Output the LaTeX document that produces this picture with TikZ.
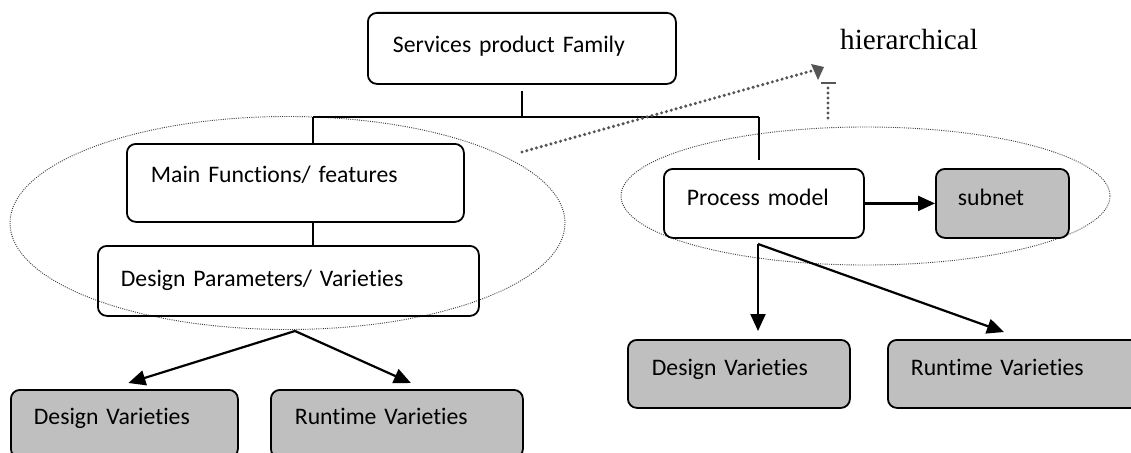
\documentclass[tikz,border=0pt]{standalone}
\usepackage{fontspec}
\newfontfamily\calfont[Ligatures=NoCommon]{Carlito}
\newfontfamily\timesfont{Liberation Serif}
\usetikzlibrary{arrows.meta}
\definecolor{boxgray}{HTML}{BFBFBF}
\definecolor{dotgray}{HTML}{555555}
\begin{document}
\begin{tikzpicture}[x=1pt,y=-1pt,
  pbox/.style={draw, line width=1.8pt, rounded corners=9pt, anchor=north west,
    inner ysep=0pt, align=left, font=\calfont\fontsize{23.7}{28}\selectfont},
  gbox/.style={pbox, fill=boxgray},
  conn/.style={line width=2.2pt},
  arr/.style={line width=2.2pt, -{Triangle[length=17pt,width=15pt]}},
  ell/.style={line width=0.9pt, black!75, dash pattern=on 1pt off 1.2pt},
  gdot/.style={line width=3.4pt, dotgray, line cap=round, dash pattern=on 0pt off 5pt}
]
\useasboundingbox (0,0) rectangle (1131,452);
\clip (0,0) rectangle (1131,452);
\fill[white] (0,0) rectangle (1131,452);

% ellipses
\draw[ell] (287.5,223) ellipse [x radius=277.5pt, y radius=106.5pt];
\draw[ell] (865.5,196) ellipse [x radius=244.5pt, y radius=69pt];

% boxes
\node[pbox, inner xsep=25pt, text width=258pt, text height=40pt, text depth=31pt] (sp) at (367,12) {Services product Family};
\node[pbox, inner xsep=24pt, text width=289pt, text height=39pt, text depth=39pt] (mf) at (126,143) {Main Functions/ features};
\node[pbox, inner xsep=23pt, text width=335pt, text height=41pt, text depth=29pt] (dp) at (97,245) {Design Parameters/ Varieties};
\node[gbox, inner xsep=23pt, text width=181pt, text height=35pt, text depth=33pt] (dv1) at (10,389) {Design Varieties};
\node[gbox, inner xsep=24pt, text width=204pt, text height=35pt, text depth=33pt] (rv1) at (270,389) {Runtime Varieties};
\node[pbox, inner xsep=23pt, text width=154pt, text height=37pt, text depth=32pt] (pm) at (663,168) {Process model};
\node[gbox, inner xsep=22pt, text width=89pt, text height=37pt, text depth=32pt] (sn) at (935,168) {subnet};
\node[gbox, inner xsep=24pt, text width=174pt, text height=36pt, text depth=32pt] (dv2) at (627,339) {Design Varieties};
\node[gbox, inner xsep=23pt, text width=207pt, text height=36pt, text depth=32pt] (rv2) at (887,339) {Runtime Varieties};

\node[anchor=base west, inner sep=0pt, font=\timesfont\fontsize{29.2}{34}\selectfont] (hi) at (840,49) {hierarchical};

% tree connectors
\coordinate (top) at (522,91);
\coordinate (hl) at (313,117);
\coordinate (hr) at (759,117);
\coordinate (pmtop) at (759,160);
\draw[conn] (top) -- (top |- hl);
\draw[conn] (hl) -- (hr);
\draw[conn] (hl) -- (hl |- mf.north);
\draw[conn] (hl |- mf.south) -- (hl |- dp.north);
\draw[conn] (hr) -- (pmtop);

% arrows left
\coordinate (apl) at (295,331);
\draw[arr] (apl) -- ([xshift=4pt,yshift=6pt]dv1.north);
\draw[arr] (apl) -- ([xshift=14pt,yshift=6pt]rv1.north);

% arrows right
\coordinate (apr) at (758,244);
\draw[arr] (apr) -- (758,331);
\draw[arr] (apr) -- (1004,332);
\draw[arr] (pm.east) -- (sn.west);

% gray dotted marks
\coordinate (gs) at (522,152);
\coordinate (ge) at (822,68);
\draw[gdot] (gs) -- (ge);
\fill[dotgray] (824,67) -- (811,64) -- (818,80) -- cycle;
\coordinate (bs) at (828,118);
\coordinate (be) at (828,84);
\draw[gdot] (bs) -- ([yshift=-4pt]be);
\draw[dotgray, line width=1.5pt] (820.5,83) -- (835.5,83);
\end{tikzpicture}
\end{document}
